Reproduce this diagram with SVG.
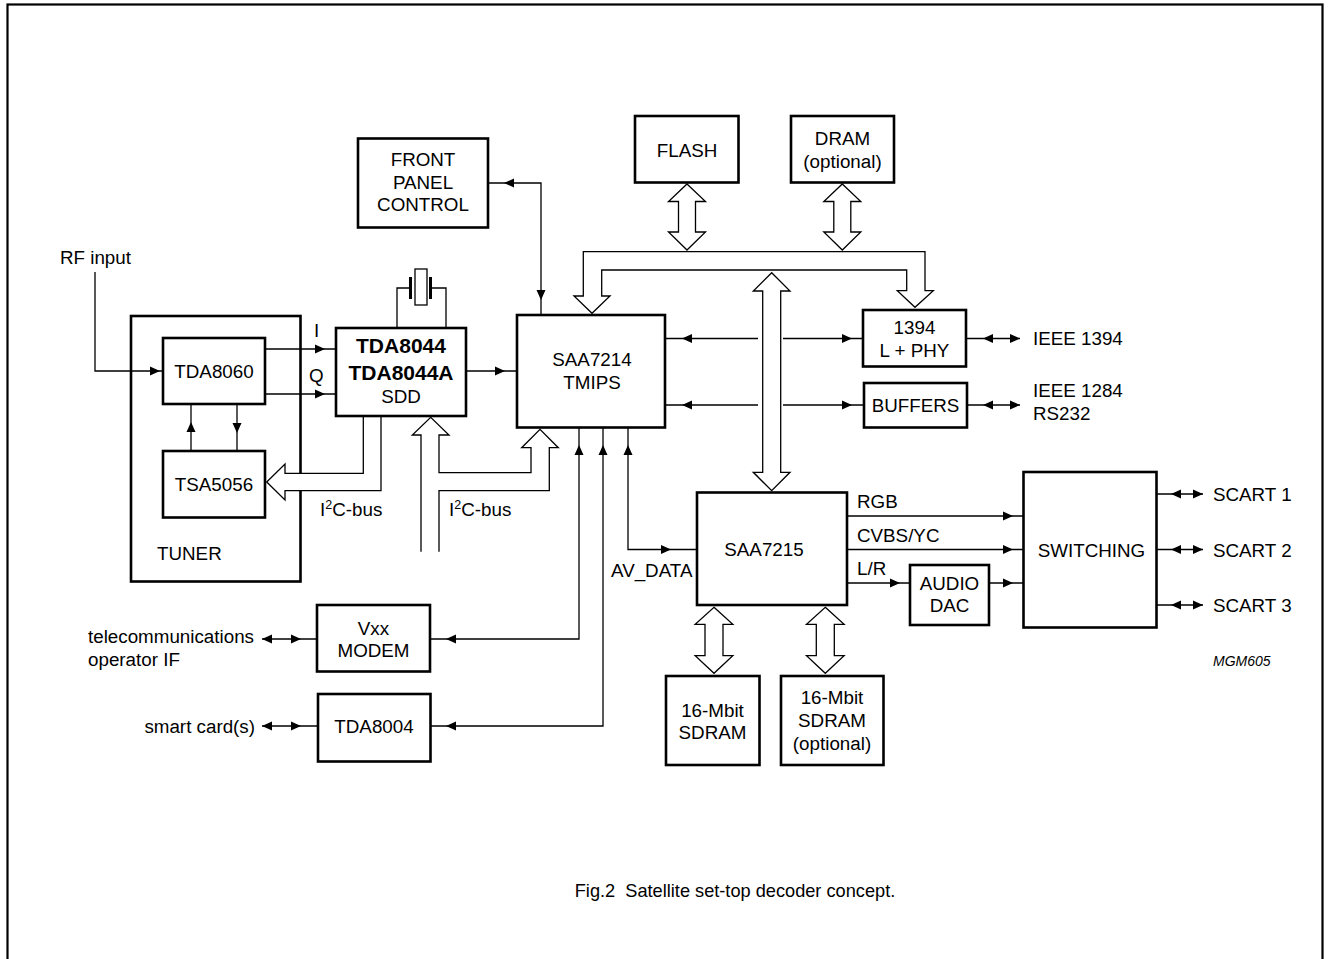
<svg xmlns="http://www.w3.org/2000/svg" xmlns:xlink="http://www.w3.org/1999/xlink" width="1329" height="959" viewBox="0 0 1329 959">
<style>
  text { font-family: "Liberation Sans", Arial, sans-serif; font-size: 18.8px; fill: #000; }
  .c { text-anchor: middle; }
  .b { font-weight: bold; font-size: 21px; }
  .box { fill: #fff; stroke: #000; stroke-width: 2.6; }
  .ln { fill: none; stroke: #000; stroke-width: 1.3; }
  .bus { fill: #fff; stroke: #000; stroke-width: 1.3; stroke-linejoin: miter; }
  .sup { font-size: 12.5px; }
  .it { font-style: italic; font-size: 14px; }
  .cap { font-size: 18.2px; }
</style>
<defs>
  <path id="ah" d="M0,0 L-10,-4.5 L-10,4.5 Z" fill="#000"/>
</defs>
<rect x="7.5" y="4.5" width="1315" height="970" fill="#fff" stroke="#000" stroke-width="2.2"/>

<g id="connectors">
  <!-- RF input -->
  <polyline class="ln" points="95,272 95,371 163,371"/>
  <use xlink:href="#ah" transform="translate(160,371)"/>
  <!-- I / Q -->
  <line class="ln" x1="265" y1="349" x2="336" y2="349"/>
  <use xlink:href="#ah" transform="translate(325,349)"/>
  <line class="ln" x1="265" y1="394" x2="336" y2="394"/>
  <use xlink:href="#ah" transform="translate(325,394)"/>
  <!-- TDA8060 <-> TSA5056 -->
  <line class="ln" x1="191" y1="404" x2="191" y2="451"/>
  <use xlink:href="#ah" transform="translate(191,422) rotate(-90)"/>
  <line class="ln" x1="237" y1="404" x2="237" y2="451"/>
  <use xlink:href="#ah" transform="translate(237,433) rotate(90)"/>
  <!-- crystal -->
  <polyline class="ln" points="397,328 397,288 409,288"/>
  <polyline class="ln" points="446,328 446,288 431,288"/>
  <line x1="410.5" y1="277" x2="410.5" y2="299" stroke="#000" stroke-width="3"/>
  <line x1="430.5" y1="277" x2="430.5" y2="299" stroke="#000" stroke-width="3"/>
  <rect x="415" y="269" width="12" height="36" fill="#fff" stroke="#000" stroke-width="1.3"/>
  <!-- TDA8044 -> SAA7214 -->
  <line class="ln" x1="466" y1="371" x2="517" y2="371"/>
  <use xlink:href="#ah" transform="translate(505,371)"/>
  <!-- front panel -->
  <polyline class="ln" points="488,183 541,183 541,315"/>
  <use xlink:href="#ah" transform="translate(504,183) rotate(180)"/>
  <use xlink:href="#ah" transform="translate(541,300) rotate(90)"/>
  <!-- SAA7214 <-> 1394 / BUFFERS -->
  <line class="ln" x1="665" y1="338.5" x2="758" y2="338.5"/>
  <line class="ln" x1="783" y1="338.5" x2="863" y2="338.5"/>
  <use xlink:href="#ah" transform="translate(682,338.5) rotate(180)"/>
  <use xlink:href="#ah" transform="translate(852,338.5)"/>
  <line class="ln" x1="665" y1="405" x2="758" y2="405"/>
  <line class="ln" x1="783" y1="405" x2="864" y2="405"/>
  <use xlink:href="#ah" transform="translate(682,405) rotate(180)"/>
  <use xlink:href="#ah" transform="translate(852,405)"/>
  <!-- IEEE -->
  <line class="ln" x1="966" y1="338.5" x2="1020" y2="338.5"/>
  <use xlink:href="#ah" transform="translate(983,338.5) rotate(180)"/>
  <use xlink:href="#ah" transform="translate(1020,338.5)"/>
  <line class="ln" x1="967" y1="405" x2="1020" y2="405"/>
  <use xlink:href="#ah" transform="translate(983,405) rotate(180)"/>
  <use xlink:href="#ah" transform="translate(1020,405)"/>
  <!-- SAA7214 bottom -->
  <polyline class="ln" points="579,427 579,639 430,639"/>
  <use xlink:href="#ah" transform="translate(579,445) rotate(-90)"/>
  <use xlink:href="#ah" transform="translate(446,639) rotate(180)"/>
  <polyline class="ln" points="603,427 603,726 430,726"/>
  <use xlink:href="#ah" transform="translate(603,445) rotate(-90)"/>
  <use xlink:href="#ah" transform="translate(446,726) rotate(180)"/>
  <polyline class="ln" points="628,427 628,549.5 697,549.5"/>
  <use xlink:href="#ah" transform="translate(628,445) rotate(-90)"/>
  <use xlink:href="#ah" transform="translate(671,549.5)"/>
  <!-- telecom / smart card -->
  <line class="ln" x1="262" y1="639" x2="317" y2="639"/>
  <use xlink:href="#ah" transform="translate(262,639) rotate(180)"/>
  <use xlink:href="#ah" transform="translate(301,639)"/>
  <line class="ln" x1="262" y1="726" x2="318" y2="726"/>
  <use xlink:href="#ah" transform="translate(262,726) rotate(180)"/>
  <use xlink:href="#ah" transform="translate(301,726)"/>
  <!-- SAA7215 outputs -->
  <line class="ln" x1="847" y1="516" x2="1023" y2="516"/>
  <use xlink:href="#ah" transform="translate(1013,516)"/>
  <line class="ln" x1="847" y1="549.5" x2="1023" y2="549.5"/>
  <use xlink:href="#ah" transform="translate(1013,549.5)"/>
  <line class="ln" x1="847" y1="583" x2="910" y2="583"/>
  <use xlink:href="#ah" transform="translate(900,583)"/>
  <line class="ln" x1="989" y1="583" x2="1023" y2="583"/>
  <use xlink:href="#ah" transform="translate(1013,583)"/>
  <!-- SCART -->
  <line class="ln" x1="1157" y1="494" x2="1203" y2="494"/>
  <use xlink:href="#ah" transform="translate(1171,494) rotate(180)"/>
  <use xlink:href="#ah" transform="translate(1203,494)"/>
  <line class="ln" x1="1157" y1="549.5" x2="1203" y2="549.5"/>
  <use xlink:href="#ah" transform="translate(1171,549.5) rotate(180)"/>
  <use xlink:href="#ah" transform="translate(1203,549.5)"/>
  <line class="ln" x1="1157" y1="605" x2="1203" y2="605"/>
  <use xlink:href="#ah" transform="translate(1171,605) rotate(180)"/>
  <use xlink:href="#ah" transform="translate(1203,605)"/>
  <!-- buses -->
  <path class="bus" d="M583.3,296 L574,296 L592,313.3 L610,296 L601.7,296 L601.7,270 L906.7,270 L906.7,290.7 L897.3,290.7 L915,307.3 L933.3,290.7 L925,290.7 L925,251.7 L583.3,251.7 Z"/>
  <path class="bus" d="M687,184 L705.5,201.5 L695.5,201.5 L695.5,232 L705.5,232 L687,250 L668.5,232 L678.5,232 L678.5,201.5 L668.5,201.5 Z"/>
  <path class="bus" d="M842.3,184 L860.8,201.5 L850.8,201.5 L850.8,232 L860.8,232 L842.3,250 L823.8,232 L833.8,232 L833.8,201.5 L823.8,201.5 Z"/>
  <path class="bus" d="M771.7,272.7 L790,291 L780.7,291 L780.7,472.3 L790,472.3 L771.7,490.7 L753.3,472.3 L762.7,472.3 L762.7,291 L753.3,291 Z"/>
  <path class="bus" d="M714,607.3 L732.8,624.3 L723,624.3 L723,655.7 L732.8,655.7 L714,673.3 L695.2,655.7 L705,655.7 L705,624.3 L695.2,624.3 Z"/>
  <path class="bus" d="M825.3,607.3 L844.1,624.3 L834.3,624.3 L834.3,655.7 L844.1,655.7 L825.3,673.3 L806.5,655.7 L816.3,655.7 L816.3,624.3 L806.5,624.3 Z"/>
  <path class="bus" d="M421,551.7 L421,435 L412.3,435 L430.7,417.3 L449,435 L439,435 L439,472.7 L531,472.7 L531,447.7 L521.7,447.7 L540,429.3 L558.3,447.7 L549.3,447.7 L549.3,490.7 L439,490.7 L439,551.7"/>
</g>

<g id="tuner">
  <rect class="box" x="131" y="316" width="169.5" height="265.5" style="fill:none"/>
  <text x="157" y="560">TUNER</text>
</g>
<g id="i2c-tuner-bus">
  <path class="bus" d="M363.3,416 L363.3,473.3 L285,473.3 L285,464 L266.7,482 L285,500 L285,490.7 L381,490.7 L381,416"/>
</g>

<g id="tda8060">
  <rect class="box" x="163" y="338" width="102" height="66"/>
  <text class="c" x="214" y="378">TDA8060</text>
</g>
<g id="tsa5056">
  <rect class="box" x="163" y="451" width="102" height="66.5"/>
  <text class="c" x="214" y="491">TSA5056</text>
</g>
<g id="tda8044">
  <rect class="box" x="336" y="328" width="130" height="88"/>
  <text class="c b" x="401" y="353">TDA8044</text>
  <text class="c b" x="401" y="380">TDA8044A</text>
  <text class="c" x="401" y="403">SDD</text>
</g>
<g id="frontpanel">
  <rect class="box" x="358" y="138.5" width="130" height="89"/>
  <text class="c" x="423" y="166">FRONT</text>
  <text class="c" x="423" y="188.5">PANEL</text>
  <text class="c" x="423" y="211">CONTROL</text>
</g>
<g id="flash">
  <rect class="box" x="635" y="116" width="103.5" height="66.5"/>
  <text class="c" x="687" y="157">FLASH</text>
</g>
<g id="dram">
  <rect class="box" x="791" y="116" width="103" height="66.5"/>
  <text class="c" x="842.5" y="145">DRAM</text>
  <text class="c" x="842.5" y="168">(optional)</text>
</g>
<g id="saa7214">
  <rect class="box" x="517" y="315" width="148" height="112.5"/>
  <text class="c" x="592" y="366">SAA7214</text>
  <text class="c" x="592" y="389">TMIPS</text>
</g>
<g id="phy1394">
  <rect class="box" x="863" y="310" width="103" height="56.5"/>
  <text class="c" x="914.5" y="334">1394</text>
  <text class="c" x="914.5" y="357">L + PHY</text>
</g>
<g id="buffers">
  <rect class="box" x="864" y="383" width="103" height="44.5"/>
  <text class="c" x="915.5" y="412">BUFFERS</text>
</g>
<g id="saa7215">
  <rect class="box" x="697" y="492.5" width="150" height="112.5"/>
  <text class="c" x="764" y="556">SAA7215</text>
</g>
<g id="audiodac">
  <rect class="box" x="910" y="565" width="79" height="60"/>
  <text class="c" x="949.5" y="590">AUDIO</text>
  <text class="c" x="949.5" y="612">DAC</text>
</g>
<g id="switching">
  <rect class="box" x="1023.5" y="472" width="133" height="155.5"/>
  <text class="c" x="1091.5" y="557">SWITCHING</text>
</g>
<g id="modem">
  <rect class="box" x="317" y="605" width="113" height="66.5"/>
  <text class="c" x="373.5" y="635">Vxx</text>
  <text class="c" x="373.5" y="657">MODEM</text>
</g>
<g id="tda8004">
  <rect class="box" x="318" y="694" width="112.5" height="67.5"/>
  <text class="c" x="374" y="733">TDA8004</text>
</g>
<g id="sdram1">
  <rect class="box" x="666" y="676" width="93.5" height="89"/>
  <text class="c" x="712.5" y="717">16-Mbit</text>
  <text class="c" x="712.5" y="739">SDRAM</text>
</g>
<g id="sdram2">
  <rect class="box" x="781" y="676" width="102.5" height="89"/>
  <text class="c" x="832" y="703.5">16-Mbit</text>
  <text class="c" x="832" y="726.5">SDRAM</text>
  <text class="c" x="832" y="750">(optional)</text>
</g>

<g id="labels">
  <text x="60" y="264">RF input</text>
  <text x="314" y="337">I</text>
  <text x="309" y="382">Q</text>
  <text x="320" y="516">I<tspan class="sup" dy="-7">2</tspan><tspan dy="7">C-bus</tspan></text>
  <text x="449" y="516">I<tspan class="sup" dy="-7">2</tspan><tspan dy="7">C-bus</tspan></text>
  <text x="1033" y="345">IEEE 1394</text>
  <text x="1033" y="397">IEEE 1284</text>
  <text x="1033" y="420">RS232</text>
  <text x="611" y="577">AV_DATA</text>
  <text x="857" y="508">RGB</text>
  <text x="857" y="542">CVBS/YC</text>
  <text x="857" y="575">L/R</text>
  <text x="1213" y="501">SCART 1</text>
  <text x="1213" y="557">SCART 2</text>
  <text x="1213" y="612">SCART 3</text>
  <text class="it" x="1213" y="666">MGM605</text>
  <text x="88" y="643">telecommunications</text>
  <text x="88" y="666">operator IF</text>
  <text x="255" y="733" text-anchor="end">smart card(s)</text>
  <text class="c cap" x="735" y="897" style="white-space:pre">Fig.2  Satellite set-top decoder concept.</text>
</g>
</svg>
